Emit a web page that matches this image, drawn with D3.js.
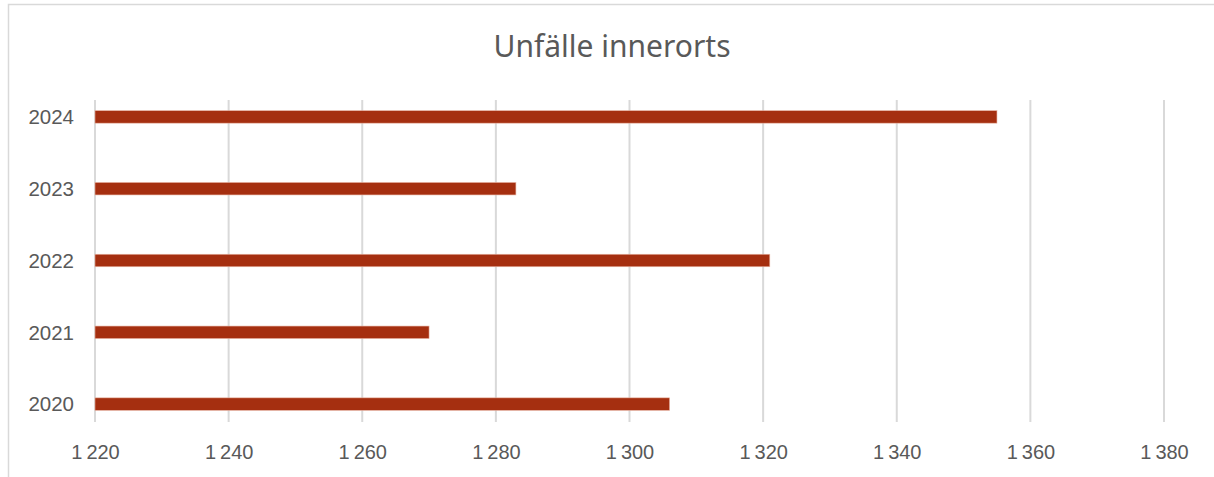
<!DOCTYPE html>
<html>
<head>
<meta charset="utf-8">
<script src="https://cdn.jsdelivr.net/npm/d3@7"></script>
<style>
  body { margin: 0; background: #fff; }
  text { font-family: "Liberation Sans", Arial, sans-serif; fill: #595959; }
</style>
</head>
<body>
<script>
var years = ["2020", "2021", "2022", "2023", "2024"];
var accidents = [1306, 1270, 1321, 1283, 1355];
var xTicks = [1220, 1240, 1260, 1280, 1300, 1320, 1340, 1360, 1380];
var chartTitle = "Unfälle innerorts";

var width = 1214, height = 477;

var svg = d3.select("body").append("svg")
    .attr("width", width)
    .attr("height", height);

// chart border (only left and top edges are visible in the frame)
svg.append("rect")
    .attr("x", 8.5).attr("y", 4.5)
    .attr("width", 1220).attr("height", 490)
    .attr("fill", "none")
    .attr("stroke", "#d9d9d9")
    .attr("stroke-width", 1.5);

svg.append("text")
    .attr("x", 612)
    .attr("y", 57)
    .attr("text-anchor", "middle")
    .style("font-family", "'Noto Sans', sans-serif")
    .style("font-size", "30px")
    .text(chartTitle);

var x = d3.scaleLinear()
    .domain([1220, 1380])
    .range([95, 1164]);

var y = d3.scaleBand()
    .domain(years)
    .range([440, 81]);

var gridTop = 100, gridBottom = 422;

// vertical gridlines
svg.append("g")
    .selectAll("line")
    .data(xTicks)
    .enter().append("line")
    .attr("x1", function(d) { return x(d); })
    .attr("x2", function(d) { return x(d); })
    .attr("y1", gridTop)
    .attr("y2", gridBottom)
    .attr("stroke", "#d9d9d9")
    .attr("stroke-width", 2);

// bars
var barH = 12.5;
svg.append("g")
    .selectAll("rect")
    .data(years)
    .enter().append("rect")
    .attr("x", x(1220))
    .attr("y", function(d) { return y(d) + y.bandwidth() / 2 - barH / 2; })
    .attr("width", function(d, i) { return x(accidents[i]) - x(1220); })
    .attr("height", barH)
    .attr("fill", "#a52f10")
    .attr("stroke", "#e8b4a4")
    .attr("stroke-width", 0.6);

// x axis labels
var fmt = function(d) { return d3.format(",")(d).replace(",", "\u2009"); };
var xAxis = svg.append("g")
    .attr("transform", "translate(0," + 445 + ")")
    .call(d3.axisBottom(x).tickValues(xTicks).tickSize(0).tickPadding(0).tickFormat(fmt));
xAxis.select(".domain").remove();
xAxis.selectAll("text")
    .attr("dy", "0.71em")
    .style("font-size", "20px")
    .style("fill", "#595959");

// y axis labels
var yAxis = svg.append("g")
    .attr("transform", "translate(" + 74 + ",0)")
    .call(d3.axisLeft(y).tickSize(0).tickPadding(0));
yAxis.select(".domain").remove();
yAxis.selectAll("text")
    .attr("dy", "0.36em")
    .style("font-size", "20.5px")
    .style("fill", "#595959");
</script>
</body>
</html>
